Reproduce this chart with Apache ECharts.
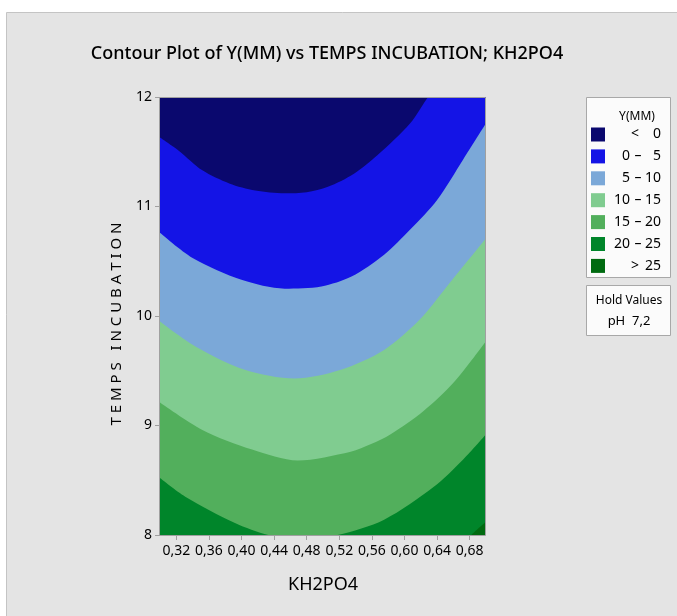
<!DOCTYPE html>
<html>
<head>
<meta charset="utf-8">
<title>Contour Plot of Y(MM)</title>
<script src="https://cdn.jsdelivr.net/npm/echarts@6/dist/echarts.min.js"></script>
<style>
  html, body { margin: 0; padding: 0; background: #ffffff; }
  #contourChart { width: 677px; height: 616px; }
</style>
</head>
<body>
<div id="contourChart"></div>
<script>
// tick labels
var kh2po4Ticks = [0.32, 0.36, 0.40, 0.44, 0.48, 0.52, 0.56, 0.60, 0.64, 0.68]
var tempsTicks = [8, 9, 10, 11, 12]

// legend classes of Y(MM), top to bottom
var levelLow = ['', '0', '5', '10', '15', '20', '']
var levelHigh = ['0', '5', '10', '15', '20', '25', '25']
var levelSign = ['<', '–', '–', '–', '–', '–', '>']

// contour boundaries: [KH2PO4, TEMPS INCUBATION]
var contour0 = [[0.300, 11.63], [0.323, 11.51], [0.352, 11.33], [0.385, 11.21], [0.417, 11.145], [0.453, 11.12], [0.480, 11.13], [0.506, 11.18], [0.538, 11.30], [0.567, 11.47], [0.607, 11.76], [0.629, 12.00], [0.660, 12.30], [0.700, 12.65]]
var contour5 = [[0.300, 10.76], [0.340, 10.53], [0.400, 10.33], [0.453, 10.25], [0.498, 10.27], [0.535, 10.36], [0.575, 10.56], [0.607, 10.79], [0.640, 11.06], [0.672, 11.43], [0.700, 11.76]]
var contour10 = [[0.300, 9.95], [0.344, 9.72], [0.404, 9.51], [0.465, 9.43], [0.522, 9.51], [0.575, 9.69], [0.619, 9.97], [0.652, 10.27], [0.700, 10.71]]
var contour15 = [[0.300, 9.21], [0.352, 8.96], [0.413, 8.78], [0.469, 8.68], [0.534, 8.76], [0.559, 8.83], [0.583, 8.92], [0.623, 9.13], [0.660, 9.39], [0.700, 9.77]]
var contour20 = [[0.300, 8.52], [0.331, 8.35], [0.392, 8.11], [0.433, 8.00], [0.475, 7.96], [0.518, 8.00], [0.575, 8.14], [0.636, 8.44], [0.672, 8.69], [0.700, 8.92]]
var contour25 = [[0.676, 7.95], [0.682, 8.00], [0.700, 8.12]]

var colors = ['#0a086e', '#1414e6', '#7ba8d8', '#80cc90', '#52af5c', '#00852a', '#006a10']
var textFont = '"Noto Sans", "Open Sans", sans-serif'

var chart = echarts.init(document.getElementById('contourChart'))

var fillSeries = [contour0, contour5, contour10, contour15, contour20, contour25].map(function (d, i) {
  return {
    type: 'line',
    data: d,
    smooth: 0.3,
    symbol: 'none',
    silent: true,
    lineStyle: { width: 0 },
    areaStyle: { color: colors[i + 1], opacity: 1, origin: 'start' },
    z: 2 + i
  }
})

// legend box drawn as graphic
var legendItems = [
  { type: 'rect', shape: { x: 586.5, y: 97.5, width: 84, height: 180 }, style: { fill: '#fbfbfb', stroke: '#a8a8a8', lineWidth: 1 } },
  { type: 'text', style: { x: 637, y: 117, text: 'Y(MM)', align: 'center', verticalAlign: 'middle', font: '12px ' + textFont, fill: '#000' } },
  { type: 'rect', shape: { x: 586.5, y: 285.5, width: 84, height: 50 }, style: { fill: '#fbfbfb', stroke: '#a8a8a8', lineWidth: 1 } },
  { type: 'text', style: { x: 629, y: 301, text: 'Hold Values', align: 'center', verticalAlign: 'middle', font: '12px ' + textFont, fill: '#000' } },
  { type: 'text', style: { x: 629, y: 321, text: 'pH  7,2', align: 'center', verticalAlign: 'middle', font: '13px ' + textFont, fill: '#000' } }
]
levelHigh.forEach(function (hi, i) {
  var cy = 134.5 + i * 21.9
  var signX = levelLow[i] ? 638 : 635
  legendItems.push({ type: 'rect', shape: { x: 591, y: cy - 7, width: 14, height: 14 }, style: { fill: colors[i] } })
  legendItems.push({ type: 'text', style: { x: 630, y: cy, text: levelLow[i], align: 'right', verticalAlign: 'middle', font: '14px ' + textFont, fill: '#000' } })
  legendItems.push({ type: 'text', style: { x: signX, y: cy, text: levelSign[i], align: 'center', verticalAlign: 'middle', font: '14px ' + textFont, fill: '#000' } })
  legendItems.push({ type: 'text', style: { x: 661, y: cy, text: hi, align: 'right', verticalAlign: 'middle', font: '14px ' + textFont, fill: '#000' } })
})

chart.setOption({
  animation: false,
  backgroundColor: '#ffffff',
  textStyle: { fontFamily: textFont },
  grid: {
    left: 160, top: 97, width: 326, height: 438,
    show: true, backgroundColor: colors[0], borderWidth: 0
  },
  xAxis: {
    type: 'value',
    min: 0.3,
    max: 0.7,
    name: 'KH2PO4',
    nameLocation: 'middle',
    nameGap: 41,
    nameTextStyle: { fontSize: 18, color: '#000' },
    splitLine: { show: false },
    axisLine: { show: false },
    axisTick: { show: true, length: 5, customValues: kh2po4Ticks, lineStyle: { color: '#a0a0a0' } },
    axisLabel: {
      customValues: kh2po4Ticks,
      margin: 9,
      fontSize: 14,
      color: '#000',
      formatter: function (v) { return v.toFixed(2).replace('.', ',') }
    }
  },
  yAxis: {
    type: 'value',
    min: 8,
    max: 12,
    interval: 1,
    splitLine: { show: false },
    axisLine: { show: false },
    axisTick: { show: true, length: 5, lineStyle: { color: '#a0a0a0' } },
    axisLabel: { margin: 8, fontSize: 14, color: '#000', formatter: function (v) { return tempsTicks.indexOf(v) >= 0 ? String(v) : '' } }
  },
  graphic: [
    { type: 'rect', z: -10, silent: true, shape: { x: 6.5, y: 12.5, width: 680, height: 620 }, style: { fill: '#e4e4e4', stroke: '#c4c4c4', lineWidth: 1 } },
    { type: 'text', silent: true, style: { x: 327, y: 54, text: 'Contour Plot of Y(MM) vs TEMPS INCUBATION; KH2PO4', align: 'center', verticalAlign: 'middle', font: '500 18px ' + textFont, fill: '#000' } },
    { type: 'text', silent: true, x: 117, y: 324, rotation: Math.PI / 2, style: { x: 0, y: 0, text: 'T E M P S   I N C U B A T I O N', align: 'center', verticalAlign: 'middle', font: '15px ' + textFont, fill: '#000' } },
    { type: 'rect', silent: true, z: 100, shape: { x: 159.5, y: 97.5, width: 326, height: 438 }, style: { fill: 'none', stroke: '#a0a0a0', lineWidth: 1 } }
  ].concat(legendItems.map(function (g) { g.silent = true; g.z = 100; return g })),
  series: fillSeries
})
</script>
</body>
</html>
